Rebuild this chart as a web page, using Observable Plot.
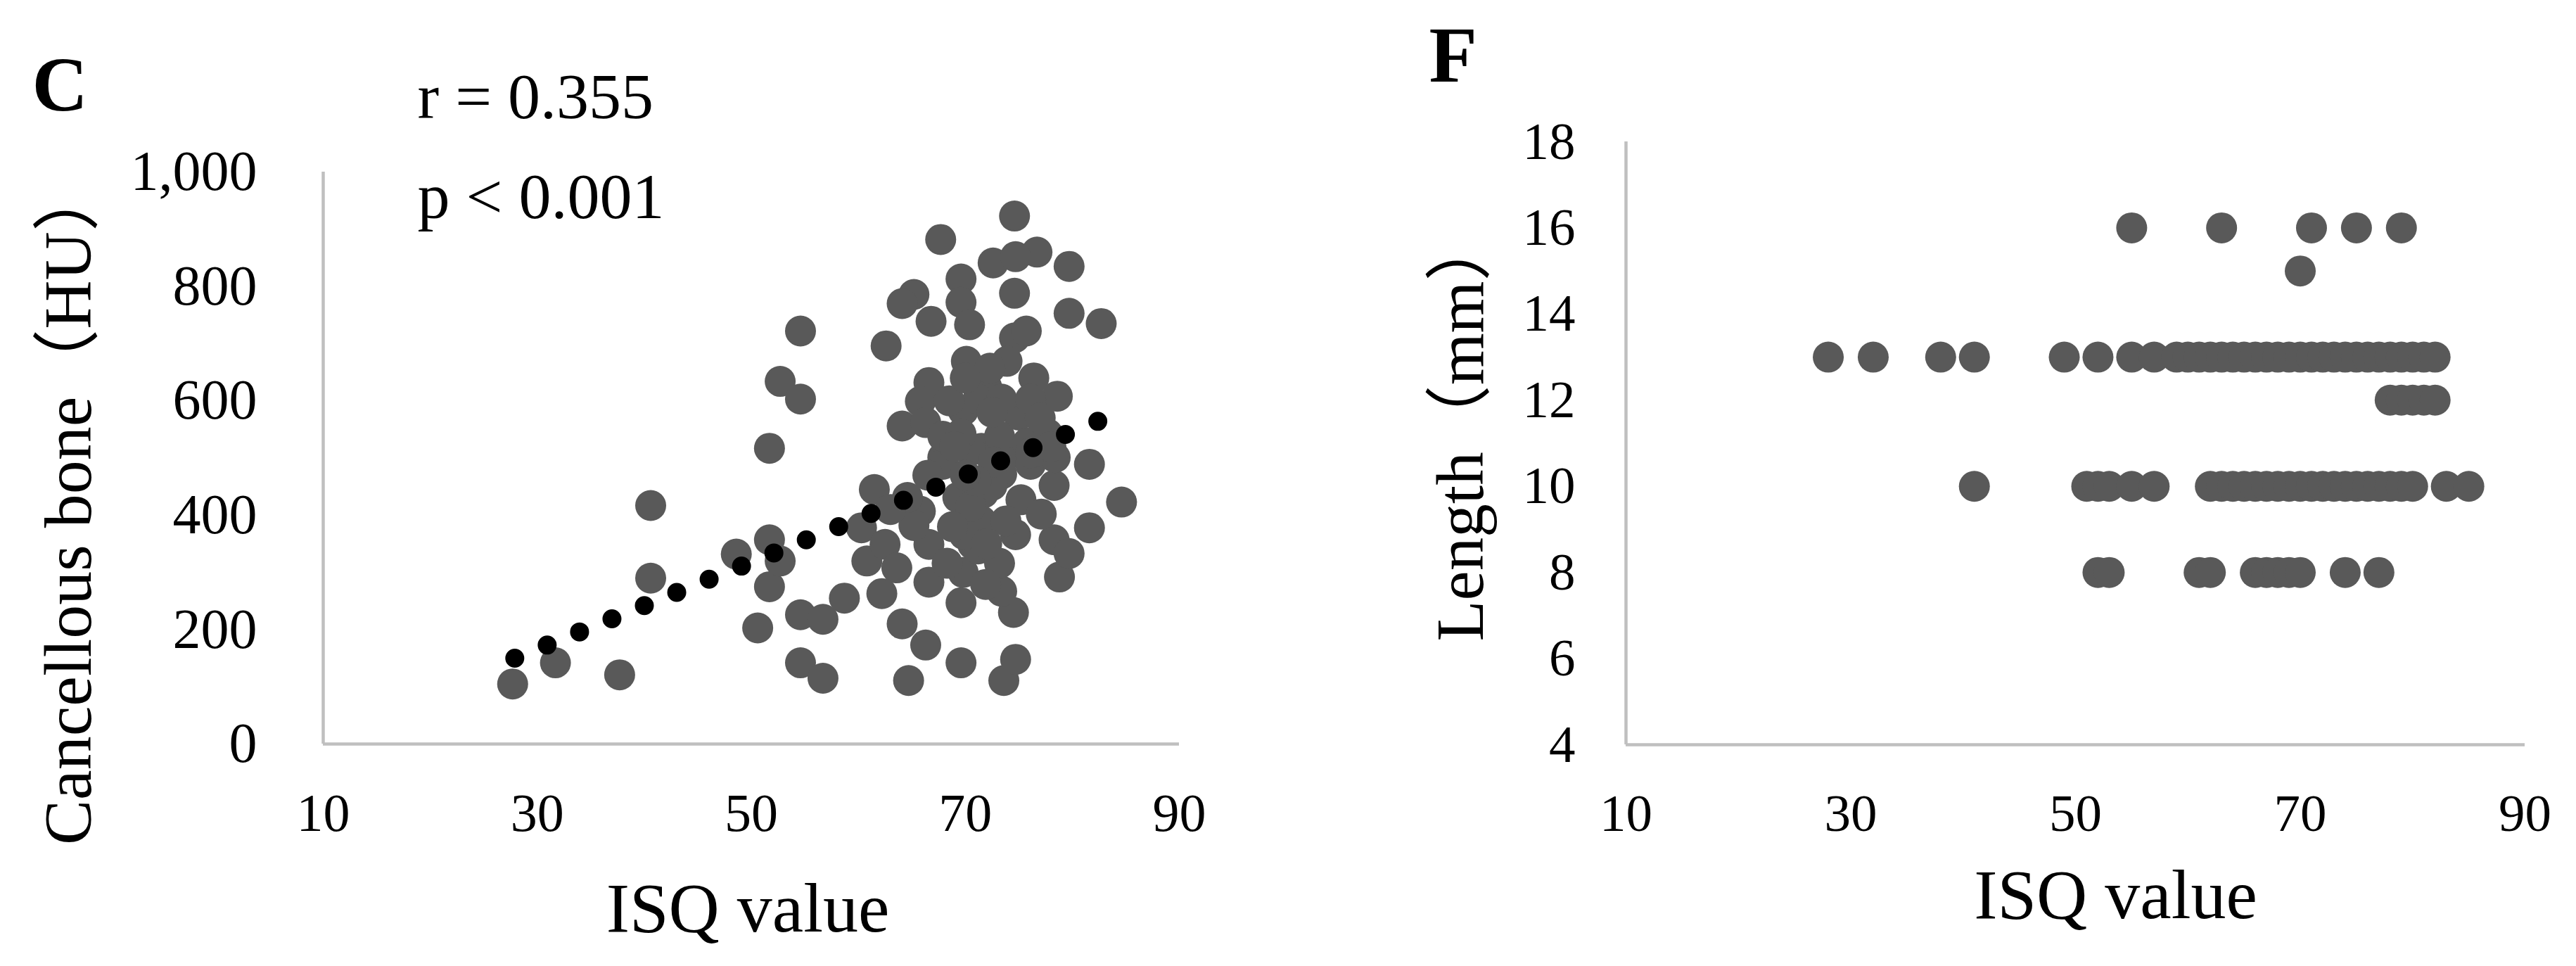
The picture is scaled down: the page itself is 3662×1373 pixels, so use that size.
<!DOCTYPE html>
<html>
<head>
<meta charset="utf-8">
<script src="https://cdn.jsdelivr.net/npm/d3@7"></script>
<script src="https://cdn.jsdelivr.net/npm/@observablehq/plot@0.6"></script>
<style>
html, body { margin: 0; padding: 0; background: #fff; }
#wrap { position: relative; width: 3662px; height: 1373px; overflow: hidden; background: #fff; }
#c { position: absolute; left: 0; top: 0; width: 1800px; height: 1373px; }
#f { position: absolute; left: 1800px; top: 0; width: 1862px; height: 1373px; }
</style>
</head>
<body>
<div id="wrap"><div id="c"></div><div id="f"></div></div>
<script>
// ---------- Panel C: ISQ value vs cancellous bone (HU) ----------
const isqC = [
  74.6, 67.7, 76.7, 72.6, 74.7, 79.7, 69.6, 74.6, 65.2, 64.1, 69.6, 79.7, 82.7, 54.6, 66.8, 70.4,
  62.6, 74.6, 75.7, 70.1, 73.9, 76.4, 78.6, 66.6, 65.8, 52.7, 54.6, 69.8, 72.0, 64.1, 66.3, 81.6,
  51.7, 67.9, 71.5, 75.0, 77.7, 74.2,
  84.6, 61.5, 51.7, 51.7, 52.7, 48.6, 50.6, 54.6, 56.7, 58.7, 54.6, 56.7, 60.3, 60.8, 62.5, 63.6,
  62.2, 65.8, 66.6, 66.6, 64.1, 66.3, 64.7, 69.6, 73.6, 74.7, 74.5, 73.4, 69.6, 69.8, 70.7, 71.5,
  67.9, 69.3, 73.4, 76.1, 78.3, 74.7, 78.3, 81.6, 78.8, 79.7, 71.7, 65.2,
  40.6, 40.6, 27.7, 31.7, 37.7,
  67.9, 70.5, 73.2, 75.8, 78.4, 72.5, 75.2, 77.1, 71.2, 73.2, 71.9, 69.9, 68.3, 70.5, 73.8, 64.6,
  72.3, 71.2, 73.4, 76.1, 69.6, 72.6, 76.1,
  71.0, 68.5, 70.0, 72.5, 66.5, 77.0, 70.0, 69.0, 78.0, 68.8, 63.0, 72.0
];
const huC = [
  923, 882, 860, 841, 852, 835, 813, 788, 786, 770, 772, 753, 735, 722, 739, 733,
  696, 710, 722, 669, 669, 640, 608, 632, 599, 634, 603, 583, 624, 556, 562, 489,
  517, 501, 517, 575, 542, 509,
  423, 445, 357, 275, 320, 332, 203, 226, 218, 255, 142, 115, 378, 320, 349, 308,
  263, 407, 349, 283, 210, 173, 111, 142, 111, 148, 230, 267, 247, 300, 349, 390,
  489, 431, 472, 489, 452, 366, 357, 378, 292, 333, 439, 382,
  417, 290, 105, 142, 121,
  538, 513, 538, 526, 501, 452, 427, 402, 341, 316, 279, 366, 316, 415, 390, 431,
  657, 603, 603, 603, 542, 493, 509,
  460, 600, 470, 580, 470, 570, 640, 520, 520, 380, 410, 350
];
// linear trend line (dotted), end points
const trendIsq = [27.9, 82.5];
const trendHu = [150, 565];
const statsC = ["r = 0.355", "p < 0.001"];

// ---------- Panel F: ISQ value vs length (mm) ----------
const isqF = [
  55, 63, 71, 75, 79,
  70,
  28, 32, 38, 41, 49, 52, 55, 57, 59, 60, 61, 62, 63, 64, 65, 66, 67, 68, 69, 70, 71, 72, 73, 74, 75, 76, 77, 78, 79, 80, 81, 82,
  78, 79, 80, 81, 82,
  41, 51, 52, 53, 55, 57, 62, 63, 64, 65, 66, 67, 68, 69, 70, 71, 72, 73, 74, 75, 76, 77, 78, 79, 80, 83, 85,
  52, 53, 61, 62, 66, 67, 68, 69, 70, 74, 77
];
const lenF = [
  16, 16, 16, 16, 16,
  15,
  13, 13, 13, 13, 13, 13, 13, 13, 13, 13, 13, 13, 13, 13, 13, 13, 13, 13, 13, 13, 13, 13, 13, 13, 13, 13, 13, 13, 13, 13, 13, 13,
  12, 12, 12, 12, 12,
  10, 10, 10, 10, 10, 10, 10, 10, 10, 10, 10, 10, 10, 10, 10, 10, 10, 10, 10, 10, 10, 10, 10, 10, 10, 10, 10,
  8, 8, 8, 8, 8, 8, 8, 8, 8, 8, 8
];

const xTicks = [10, 30, 50, 70, 90];
const yTicksC = [0, 200, 400, 600, 800, 1000];
const yTicksF = [4, 6, 8, 10, 12, 14, 16, 18];

const serif = '"Liberation Serif", "Times New Roman", "Noto Sans CJK SC", serif';
const dotColor = "#595959";
const axisColor = "#bfbfbf";

const dataC = isqC.map((x, i) => ({isq: x, hu: huC[i]}));
const trend = trendIsq.map((x, i) => ({isq: x, hu: trendHu[i]}));
const dataF = isqF.map((x, i) => ({isq: x, len: lenF[i]}));

const plotC = Plot.plot({
  width: 1800, height: 1373,
  marginLeft: 459, marginRight: 124, marginTop: 244, marginBottom: 316,
  style: {fontFamily: serif, fontSize: "78px", color: "#000", background: "transparent", overflow: "visible"},
  x: {domain: [10, 90], label: null},
  y: {domain: [0, 1000], label: null},
  marks: [
    Plot.axisX({ticks: xTicks, tickSize: 0, tickPadding: 70, fontSize: 76, label: null}),
    Plot.axisY({ticks: yTicksC, tickSize: 0, tickPadding: 94, fontSize: 80, label: null, tickFormat: d3.format(",")}),
    Plot.ruleY([0], {stroke: axisColor, strokeWidth: 4.5}),
    Plot.ruleX([10], {stroke: axisColor, strokeWidth: 4.5}),
    Plot.dot(dataC, {x: "isq", y: "hu", r: 22, fill: dotColor, stroke: null}),
    Plot.line(trend, {x: "isq", y: "hu", stroke: "#000", strokeWidth: 27, strokeLinecap: "round", strokeDasharray: "0 49.7"}),
    Plot.text(["C"], {text: d => d, frameAnchor: "top-left", dx: -414, dy: -88, lineAnchor: "bottom", textAnchor: "start", fontSize: 110, fontWeight: "bold"}),
    Plot.text([statsC[0]], {text: d => d, frameAnchor: "top-left", dx: 134, dy: -77, lineAnchor: "bottom", textAnchor: "start", fontSize: 92}),
    Plot.text([statsC[1]], {text: d => d, frameAnchor: "top-left", dx: 134, dy: 65, lineAnchor: "bottom", textAnchor: "start", fontSize: 92}),
    Plot.text(["Cancellous bone（HU）"], {text: d => d, frameAnchor: "left", dx: -331, dy: 66, rotate: -90, textAnchor: "middle", lineAnchor: "bottom", fontSize: 96}),
    Plot.text(["ISQ value"], {text: d => d, frameAnchor: "bottom", dx: -5, dy: 234, lineAnchor: "middle", textAnchor: "middle", fontSize: 100})
  ]
});
document.getElementById("c").appendChild(plotC);

const plotF = Plot.plot({
  width: 1862, height: 1373,
  marginLeft: 511, marginRight: 73, marginTop: 201, marginBottom: 315,
  style: {fontFamily: serif, fontSize: "75px", color: "#000", background: "transparent", overflow: "visible"},
  x: {domain: [10, 90], label: null},
  y: {domain: [4, 18], label: null},
  marks: [
    Plot.axisX({ticks: xTicks, tickSize: 0, tickPadding: 69, fontSize: 75, label: null}),
    Plot.axisY({ticks: yTicksF, tickSize: 0, tickPadding: 72, fontSize: 75, label: null}),
    Plot.ruleY([4], {stroke: axisColor, strokeWidth: 4.5}),
    Plot.ruleX([10], {stroke: axisColor, strokeWidth: 4.5}),
    Plot.dot(dataF, {x: "isq", y: "len", r: 22, fill: dotColor, stroke: null}),
    Plot.text(["F"], {text: d => d, frameAnchor: "top-left", dx: -280, dy: -86, lineAnchor: "bottom", textAnchor: "start", fontSize: 112, fontWeight: "bold"}),
    Plot.text(["Length（mm）"], {text: d => d, frameAnchor: "left", dx: -204, dy: -22, rotate: -90, textAnchor: "middle", lineAnchor: "bottom", fontSize: 95}),
    Plot.text(["ISQ value"], {text: d => d, frameAnchor: "bottom", dx: 57, dy: 214, lineAnchor: "middle", textAnchor: "middle", fontSize: 100})
  ]
});
document.getElementById("f").appendChild(plotF);
</script>
</body>
</html>
